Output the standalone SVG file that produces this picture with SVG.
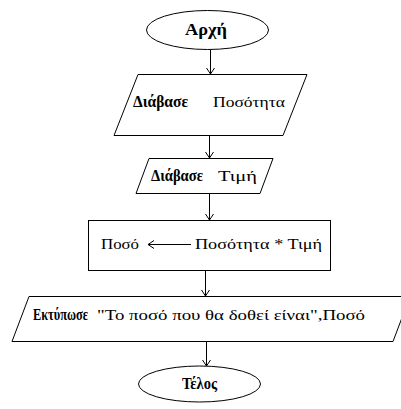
<svg xmlns="http://www.w3.org/2000/svg" width="401" height="409" viewBox="0 0 401 409">
  <style>
    .shape { fill: #ffffff; stroke: #000000; stroke-width: 1; }
    .flow { fill: none; stroke: #000000; stroke-width: 1; }
    .txt { font-family: "Liberation Serif", "DejaVu Serif", serif; font-size: 15px; fill: #000000; }
    .b { font-weight: bold; font-size: 16px; }
  </style>
  <defs>
    <marker id="vhead" markerUnits="userSpaceOnUse" markerWidth="10" markerHeight="10" refX="0" refY="0" orient="auto" overflow="visible">
      <path d="M-6,-4 L0,0 L-6,4" fill="none" stroke="#000000" stroke-width="1"/>
    </marker>
  </defs>
  <rect x="0" y="0" width="401" height="409" fill="#ffffff"/>

  <!-- connectors -->
  <g id="connectors">
    <line class="flow" x1="210.5" y1="49.5" x2="210.5" y2="74" marker-end="url(#vhead)"/>
    <line class="flow" x1="209.5" y1="135.5" x2="209.5" y2="158" marker-end="url(#vhead)"/>
    <line class="flow" x1="209.5" y1="193.5" x2="209.5" y2="220" marker-end="url(#vhead)"/>
    <line class="flow" x1="205.5" y1="270.5" x2="205.5" y2="296" marker-end="url(#vhead)"/>
    <line class="flow" x1="206.5" y1="341.5" x2="206.5" y2="366" marker-end="url(#vhead)"/>
  </g>

  <!-- start -->
  <g id="start">
    <ellipse class="shape" cx="207.5" cy="30" rx="61" ry="19.5"/>
    <text class="txt b" x="185" y="35" textLength="42" lengthAdjust="spacingAndGlyphs">Αρχή</text>
  </g>

  <!-- read quantity -->
  <g id="read-quantity">
    <polygon class="shape" points="138,74.5 307,74.5 283,135.5 114,135.5"/>
    <text class="txt b" x="133" y="107" textLength="55" lengthAdjust="spacingAndGlyphs">Διάβασε</text>
    <text class="txt" x="213" y="107" textLength="72" lengthAdjust="spacingAndGlyphs">Ποσότητα</text>
  </g>

  <!-- read price -->
  <g id="read-price">
    <polygon class="shape" points="149,158.5 273,158.5 260,193.5 136,193.5"/>
    <text class="txt b" x="151" y="181" textLength="52" lengthAdjust="spacingAndGlyphs">Διάβασε</text>
    <text class="txt" x="218" y="181" textLength="39" lengthAdjust="spacingAndGlyphs">Τιμή</text>
  </g>

  <!-- compute amount -->
  <g id="compute">
    <rect class="shape" x="88.5" y="220.5" width="242" height="50"/>
    <text class="txt" x="101" y="249" textLength="38" lengthAdjust="spacingAndGlyphs">Ποσό</text>
    <line class="flow" x1="191" y1="244.5" x2="148" y2="244.5" marker-end="url(#vhead)"/>
    <text class="txt" x="195" y="249" textLength="127" lengthAdjust="spacingAndGlyphs">Ποσότητα * Τιμή</text>
  </g>

  <!-- print amount -->
  <g id="print-amount">
    <polygon class="shape" points="29,296.5 410,296.5 393,341.5 12,341.5"/>
    <text class="txt b" x="33" y="320" textLength="55" lengthAdjust="spacingAndGlyphs">Εκτύπωσε</text>
    <text class="txt" x="97" y="320" textLength="268" lengthAdjust="spacingAndGlyphs">"Το ποσό που θα δοθεί είναι",Ποσό</text>
  </g>

  <!-- end -->
  <g id="end">
    <ellipse class="shape" cx="199.5" cy="384" rx="61" ry="18"/>
    <text class="txt b" x="182" y="389" textLength="35" lengthAdjust="spacingAndGlyphs">Τέλος</text>
  </g>
</svg>
